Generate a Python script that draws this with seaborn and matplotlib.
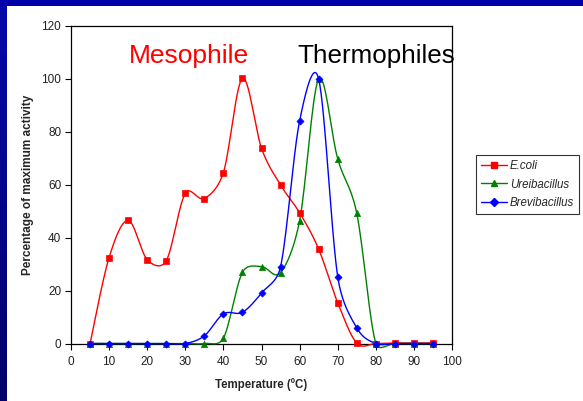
import numpy as np
import pandas as pd
import seaborn as sns
import matplotlib
matplotlib.use("Agg")
import matplotlib.pyplot as plt
from matplotlib.lines import Line2D
from matplotlib.patches import Rectangle

# Activity readings (% of maximum) at each temperature
temperature = [5, 10, 15, 20, 25, 30, 35, 40, 45, 50, 55, 60, 65, 70, 75, 80, 85, 90, 95]
ecoli = [0, 32.5, 46.5, 31.7, 31.3, 56.8, 54.8, 64.6, 100.2, 73.8, 59.9, 49.4, 35.7, 15.4, 0.2, 0, 0.2, 0.2, 0.2]
ureibacillus = [0, 0, 0, 0, 0, 0, 0, 2.0, 26.9, 29.1, 26.8, 46.4, 100, 69.8, 49.2, 0, 0, 0, 0]
brevibacillus = [0, 0, 0, 0, 0, 0, 2.9, 11.2, 11.8, 19.1, 29.0, 84.1, 100, 25.3, 5.9, 0, 0, 0, 0]

series_names = ["E.coli", "Ureibacillus", "Brevibacillus"]
series_values = [ecoli, ureibacillus, brevibacillus]
colors = {"E.coli": "#FF0000", "Ureibacillus": "#008000", "Brevibacillus": "#0000FF"}
markers = {"E.coli": "s", "Ureibacillus": "^", "Brevibacillus": "D"}
x_ticks = list(range(0, 101, 10))
y_ticks = list(range(0, 121, 20))

# axes box in pixels (figure is 583 x 401 at 100 dpi)
AX_LEFT, AX_RIGHT, AX_TOP, AX_BOTTOM = 71, 452, 26, 343.5
X_RANGE, Y_RANGE = (0, 100), (0, 120)
PX_PER_X = (AX_RIGHT - AX_LEFT) / (X_RANGE[1] - X_RANGE[0])
PX_PER_Y = (AX_BOTTOM - AX_TOP) / (Y_RANGE[1] - Y_RANGE[0])


def smooth_curve(xs, ys, steps=30):
    """Smoothed line through the points: cubic Bezier segments whose handles
    follow the neighbour chord, capped at half the segment length (screen space)."""
    p = np.column_stack([np.asarray(xs, float) * PX_PER_X, np.asarray(ys, float) * PX_PER_Y])
    n = len(p)
    t = np.linspace(0, 1, steps)[:, None]
    out = []
    for i in range(n - 1):
        p0, p1, p2, p3 = p[max(i - 1, 0)], p[i], p[i + 1], p[min(i + 2, n - 1)]
        seg = np.linalg.norm(p2 - p1)
        d02 = p2 - p0
        l02 = np.linalg.norm(d02)
        c1 = p1 + (d02 / l02 * min(l02 / 6, seg / 2) if l02 > 0 else 0)
        d13 = p3 - p1
        l13 = np.linalg.norm(d13)
        c2 = p2 - (d13 / l13 * min(l13 / 6, seg / 2) if l13 > 0 else 0)
        b = (1 - t) ** 3 * p1 + 3 * (1 - t) ** 2 * t * c1 + 3 * (1 - t) * t ** 2 * c2 + t ** 3 * p2
        out.append(b if i == 0 else b[1:])
    out = np.vstack(out)
    return out[:, 0] / PX_PER_X, out[:, 1] / PX_PER_Y


points = pd.DataFrame({
    "Temperature": np.tile(temperature, len(series_names)),
    "Activity": np.concatenate(series_values),
    "Organism": np.repeat(series_names, len(temperature)),
})

curve_rows = []
for name, vals in zip(series_names, series_values):
    cx, cy = smooth_curve(temperature, vals)
    curve_rows.append(pd.DataFrame({"Temperature": cx, "Activity": cy, "Organism": name}))
curves = pd.concat(curve_rows, ignore_index=True)

sns.set_theme(style="white")
plt.rcParams["font.family"] = ["Liberation Sans", "DejaVu Sans"]

fig = plt.figure(figsize=(5.83, 4.01), dpi=100)
fig.patch.set_facecolor("white")

# slide frame: blue band across the top, gradient strip at the left
fig.patches.append(Rectangle((0, 1 - 6 / 401), 1, 6 / 401, transform=fig.transFigure,
                             facecolor="#0000AA", edgecolor="none", zorder=0))
strip = fig.add_axes([0, 0, 7 / 583, 1 - 6 / 401])
grad = np.linspace(0, 1, 256)[:, None]
strip.imshow(grad, aspect="auto", extent=[0, 1, 0, 1],
             cmap=matplotlib.colors.LinearSegmentedColormap.from_list("frame", ["#0808A8", "#00006A"]))
strip.set_axis_off()

ax = fig.add_axes([AX_LEFT / 583, 1 - AX_BOTTOM / 401,
                   (AX_RIGHT - AX_LEFT) / 583, (AX_BOTTOM - AX_TOP) / 401])

for name in series_names:
    sub = curves[curves["Organism"] == name]
    sns.lineplot(data=sub, x="Temperature", y="Activity", sort=False, estimator=None,
                 color=colors[name], linewidth=1.0, ax=ax, clip_on=False, legend=False, zorder=3)

marker_area = {"E.coli": 17, "Ureibacillus": 20, "Brevibacillus": 13}
for name in series_names:
    sub = points[points["Organism"] == name]
    sns.scatterplot(data=sub, x="Temperature", y="Activity", marker=markers[name],
                    color=colors[name], edgecolor=colors[name], s=marker_area[name],
                    linewidth=0.5, ax=ax, clip_on=False, legend=False, zorder=4)

ax.set_xlim(*X_RANGE)
ax.set_ylim(*Y_RANGE)
ax.set_xticks(x_ticks)
ax.set_yticks(y_ticks)
ax.tick_params(axis="both", direction="out", length=4, width=0.8, color="black",
               labelsize=8.5, labelcolor="#222222", pad=3)
ax.tick_params(axis="x", bottom=True, pad=5)
ax.tick_params(axis="y", left=True)
for side in ["left", "right", "top", "bottom"]:
    ax.spines[side].set_visible(True)
    ax.spines[side].set_color("black")
    ax.spines[side].set_linewidth(0.9)

ax.set_xlabel("Temperature (ºC)", fontsize=8.3, fontweight="bold", labelpad=7)
ax.set_ylabel("Percentage of maximum activity", fontsize=8.5, fontweight="bold", labelpad=5)

ax.text(15.2, 106, "Mesophile", color="#FF0000", fontsize=19, ha="left", va="baseline")
ax.text(59.3, 106, "Thermophiles", color="black", fontsize=18.7, ha="left", va="baseline",
        clip_on=False)

handles = [Line2D([0], [0], color=colors[n], marker=markers[n],
                  markersize={"E.coli": 4.5, "Ureibacillus": 4.8, "Brevibacillus": 4}[n],
                  markerfacecolor=colors[n], markeredgecolor=colors[n], linewidth=1.0)
           for n in series_names]
leg = fig.legend(handles, series_names, loc="upper left",
                 bbox_to_anchor=(476 / 583, 1 - 155 / 401),
                 prop={"style": "italic", "size": 8.3}, frameon=True, fancybox=False,
                 edgecolor="black", handlelength=2.3, borderpad=0.4, labelspacing=0.6,
                 handletextpad=0.25, borderaxespad=0)
leg.get_frame().set_linewidth(0.8)

fig.savefig("out.png", dpi=100, facecolor="white")
